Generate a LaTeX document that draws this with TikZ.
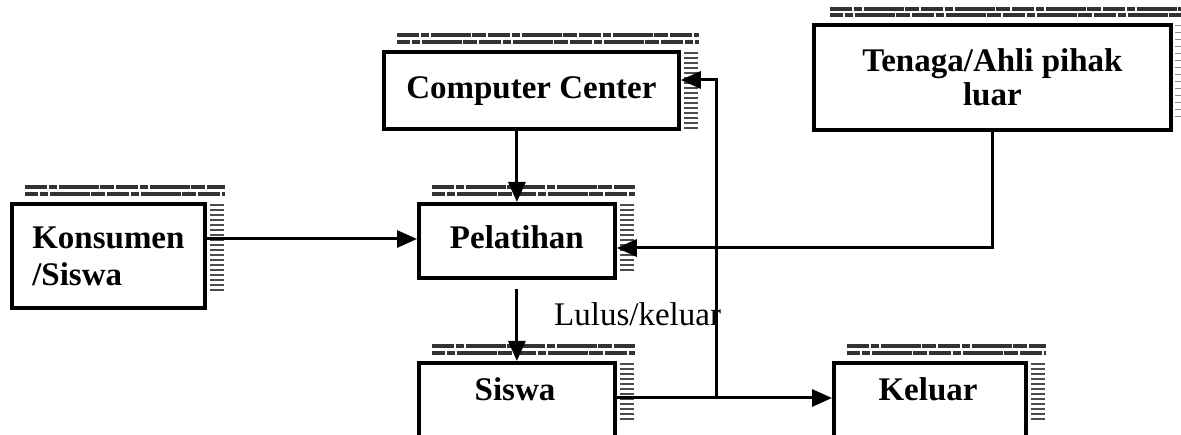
\documentclass[tikz,border=0pt]{standalone}
\usepackage{fontspec}
\setmainfont{Liberation Serif}
\usetikzlibrary{arrows.meta,calc}
\begin{document}
\begin{tikzpicture}[x=1pt,y=-1pt,
  boxnode/.style={draw,line width=3.8pt,rectangle,inner sep=0pt,font=\fontsize{33}{36}\selectfont\bfseries,text height=22pt,text depth=6pt},
  plainbox/.style={draw,line width=3.8pt,rectangle,inner sep=0pt},
  boxtext/.style={font=\fontsize{33}{36}\selectfont\bfseries,inner sep=0pt},
  conn/.style={line width=3pt},
  arr/.style={conn,-{Triangle[length=20pt,width=17pt]}},
  topband/.style={line width=4pt,black!80,dash pattern=on 22pt off 1.5pt on 8pt off 2pt on 40pt off 1pt on 14pt off 2.5pt},
  rightband/.style={line width=14pt,black!70,dash pattern=on 2.2pt off 2.8pt},
  lightband/.style={line width=10pt,black!45,dash pattern=on 1pt off 6pt}]
\useasboundingbox (0,0) rectangle (1181,435);

% boxes
\node[boxnode,minimum width=295pt,minimum height=77pt,anchor=north west] (cc) at (382,50) {Computer Center};
\node[boxnode,minimum width=357pt,minimum height=105pt,anchor=north west,align=center,text height=,text depth=,font=\fontsize{33}{34}\selectfont\bfseries] (ten) at (812,23) {Tenaga/Ahli pihak\\luar};
\node[boxnode,minimum width=193pt,minimum height=104pt,anchor=north west,align=left,text height=,text depth=,font=\fontsize{33}{37}\selectfont\bfseries] (kon) at (10,202) {Konsumen\\/Siswa};
\node[boxnode,minimum width=196pt,minimum height=74pt,anchor=north west] (pel) at (417,202) {Pelatihan};
\node[plainbox,minimum width=196pt,minimum height=110pt,anchor=north west] (sis) at (417,361) {};
\node[boxtext,anchor=base] (sistxt) at (515,401) {Siswa};
\node[plainbox,minimum width=192pt,minimum height=110pt,anchor=north west] (kel) at (832,361) {};
\node[boxtext,anchor=base] (keltxt) at (928,401) {Keluar};

% shadow bands
\foreach \n in {cc,kon,pel,sis,kel}{
  \draw[topband] ($(\n.north west)+(15,-15)$) -- ($(\n.north east)+(18,-15)$);
  \draw[topband,dash phase=9pt] ($(\n.north west)+(15,-8)$) -- ($(\n.north east)+(18,-8)$);
}
\draw[topband] ($(ten.north west)+(18,-14)$) -- ($(ten.north east)+(12,-14)$);
\draw[topband,dash phase=9pt] ($(ten.north west)+(18,-8)$) -- ($(ten.north east)+(12,-8)$);
\draw[rightband] ($(cc.north east)+(10,2)$) -- ($(cc.south east)+(10,-2)$);
\draw[rightband] ($(kon.north east)+(10,2)$) -- ($(kon.south east)+(10,-16)$);
\draw[rightband] ($(pel.north east)+(10,2)$) -- ($(pel.south east)+(10,-8)$);
\draw[rightband] ($(sis.north east)+(10,2)$) -- ($(sis.north east)+(10,60)$);
\draw[rightband] ($(kel.north east)+(10,2)$) -- ($(kel.north east)+(10,60)$);
\draw[lightband] ($(ten.north east)+(7,2)$) -- ($(ten.south east)+(7,-10)$);

% connectors
\coordinate (sj) at (716,398);
\draw[arr] (cc.south -| pel.north) -- (pel.north);
\draw[arr] (kon.east |- 0,239) -- (pel.west |- 0,239);
\draw[arr] (ten.south) |- (pel.east |- 0,248);
\draw[arr,shorten <=9pt] (pel.south) -- (sis.north -| pel.south);
\draw[arr] (sis.east |- sj) -- (kel.west |- sj);
\draw[arr] (sj) |- (cc.east |- 0,80);

\node[font=\fontsize{33}{36}\selectfont,anchor=base west,inner sep=0pt] (lbl) at (554,326) {Lulus/keluar};
\end{tikzpicture}
\end{document}
